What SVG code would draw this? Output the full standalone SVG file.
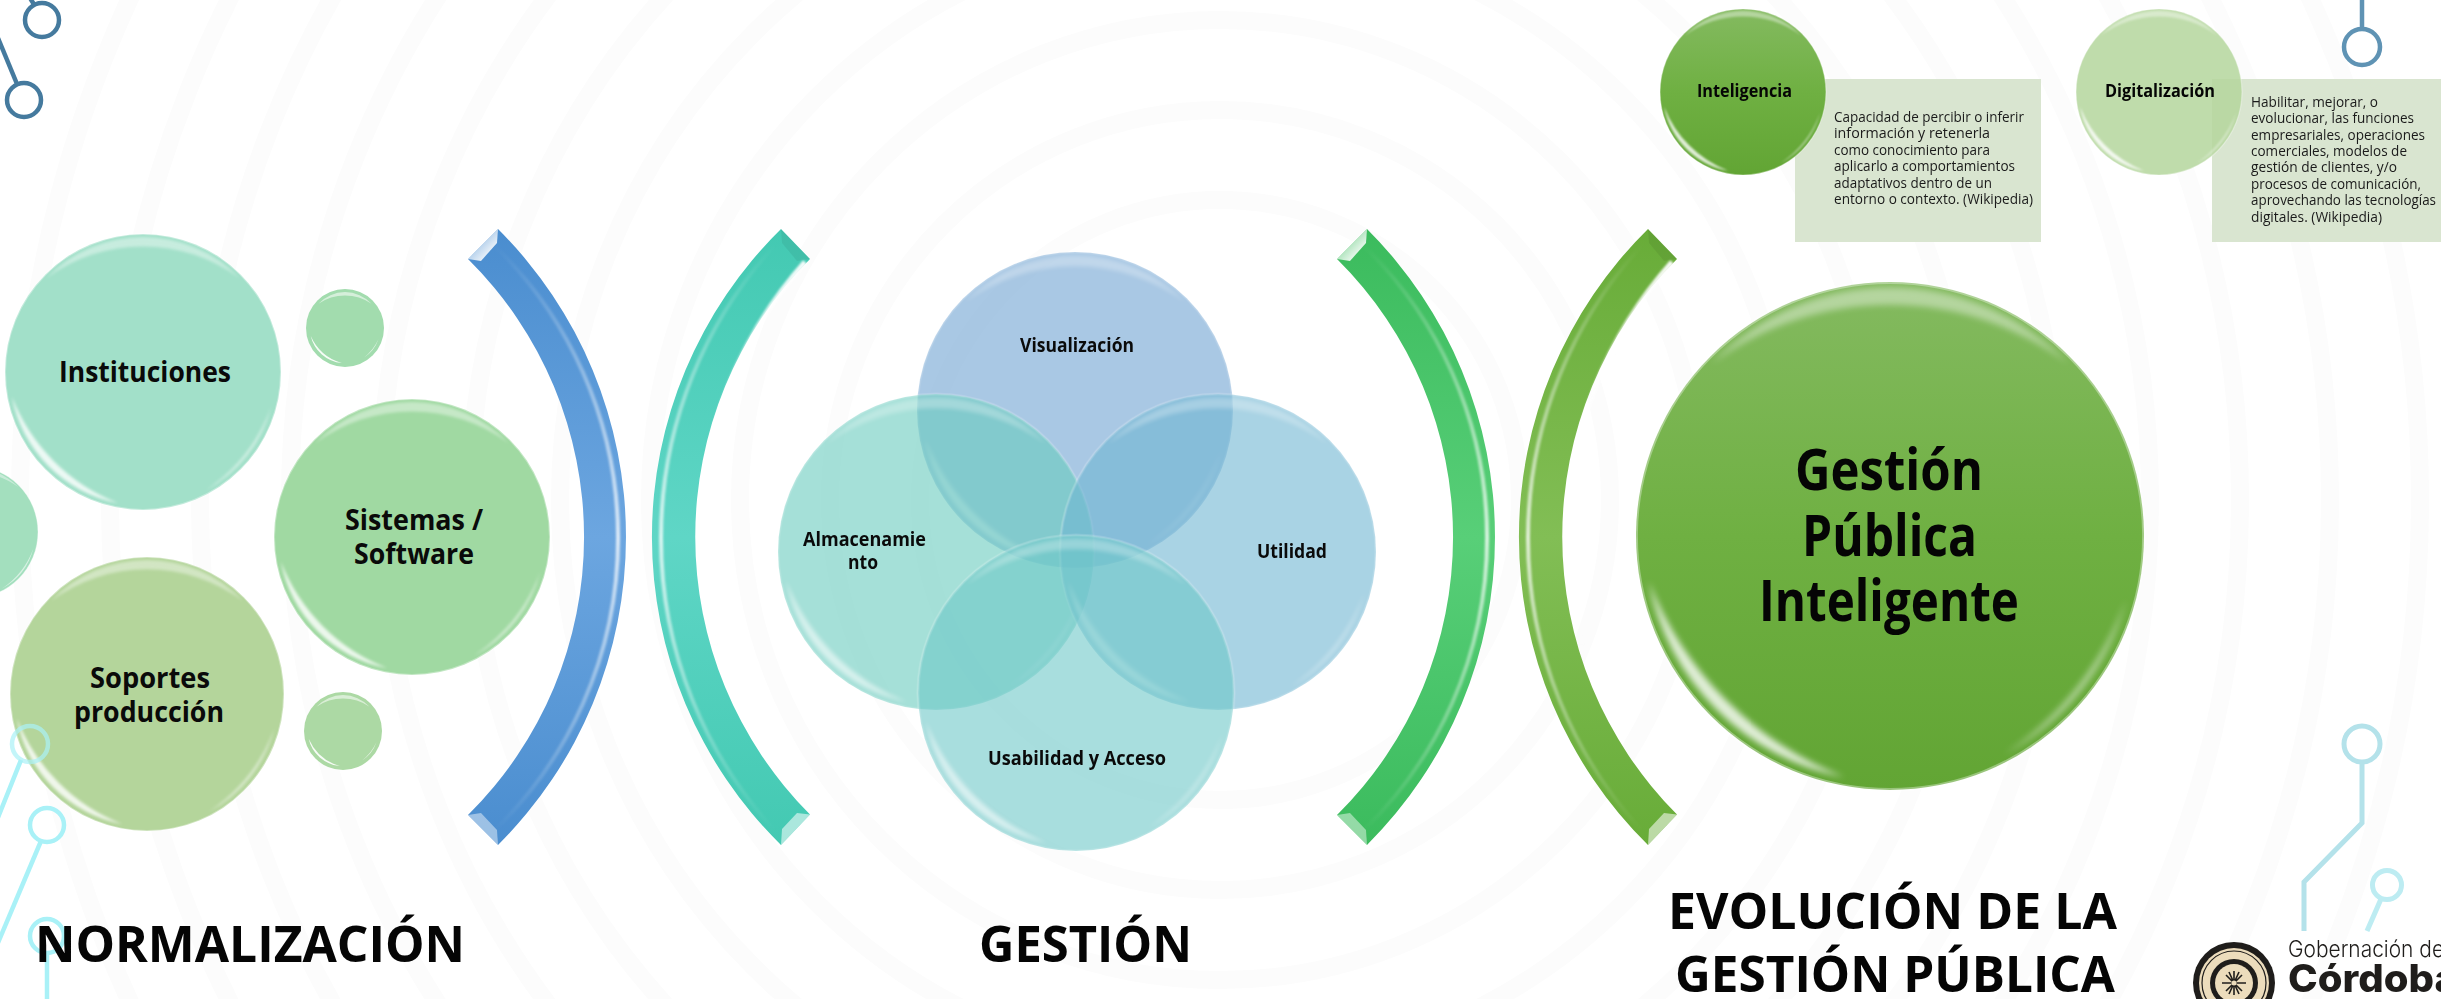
<svg xmlns="http://www.w3.org/2000/svg" xmlns:xlink="http://www.w3.org/1999/xlink" width="2441" height="999" viewBox="0 0 2441 999">
<style>
text{font-family:"Open Sans","Noto Sans","Liberation Sans",sans-serif;fill:#000}
.t{font-size:50px;font-weight:700;fill:#050505}
.n{font-size:29px;font-weight:700;fill:#0a0a0a}
.v{font-size:20px;font-weight:700;fill:#0a0a0a}
.g{font-size:58px;font-weight:700;fill:#050505}
.h{font-size:18px;font-weight:700;fill:#050505}
.s{font-size:14px;fill:#1a1a1a}
.ring{fill:none;stroke:#fcfcfc;stroke-width:18}
.c1{fill:none;stroke:#457a9e;stroke-width:4.5}
.c1b{fill:none;stroke:#5f93b4;stroke-width:4.5}
.c2{fill:none;stroke:#a9f1f7;stroke-width:4.5}
.c3{fill:none;stroke:#b4e2ea;stroke-width:5}
.c4{fill:none;stroke:#bdecf2;stroke-width:5}
</style>
<defs>
<filter id="soft" x="-20%" y="-20%" width="140%" height="140%"><feGaussianBlur stdDeviation="1"/></filter>
<filter id="soft2" x="-20%" y="-20%" width="140%" height="140%"><feGaussianBlur stdDeviation="1.2"/></filter>
<linearGradient id="bl" x1="0" y1="0" x2="0" y2="1"><stop offset="0" stop-color="#4a8dcf"/><stop offset=".5" stop-color="#6ca6e0"/><stop offset="1" stop-color="#4a8dcf"/></linearGradient>
<linearGradient id="te" x1="0" y1="0" x2="0" y2="1"><stop offset="0" stop-color="#43c9b2"/><stop offset=".5" stop-color="#5fd6c6"/><stop offset="1" stop-color="#43c9b2"/></linearGradient>
<linearGradient id="gr" x1="0" y1="0" x2="0" y2="1"><stop offset="0" stop-color="#3bbb5d"/><stop offset=".5" stop-color="#58cf78"/><stop offset="1" stop-color="#3bbb5d"/></linearGradient>
<linearGradient id="li" x1="0" y1="0" x2="0" y2="1"><stop offset="0" stop-color="#68ac38"/><stop offset=".5" stop-color="#82be55"/><stop offset="1" stop-color="#68ac38"/></linearGradient>
<linearGradient id="big" x1="0" y1="0" x2="0" y2="1"><stop offset="0" stop-color="#84ba60"/><stop offset=".5" stop-color="#6fb042"/><stop offset="1" stop-color="#62a534"/></linearGradient>
<linearGradient id="hlm" x1="0" y1="0" x2="0" y2="1"><stop offset="0" stop-color="#fff" stop-opacity="0"/><stop offset=".5" stop-color="#fff" stop-opacity=".75"/><stop offset="1" stop-color="#fff" stop-opacity="0"/></linearGradient>
<linearGradient id="hlt" x1="0" y1="0" x2="0" y2="1"><stop offset="0" stop-color="#fff" stop-opacity=".95"/><stop offset=".4" stop-color="#fff" stop-opacity=".4"/><stop offset=".7" stop-color="#fff" stop-opacity="0"/></linearGradient>
<linearGradient id="fac" x1="0" y1="0" x2="1" y2="1"><stop offset="0" stop-color="#fff" stop-opacity=".15"/><stop offset=".7" stop-color="#fff" stop-opacity=".85"/><stop offset="1" stop-color="#fff" stop-opacity=".3"/></linearGradient>
<path id="brR" d="M498 229A434.6 434.6 0 0 1 498 845L468 815A391 391 0 0 0 468 259Z"/>
<path id="brL" d="M781 229A432 432 0 0 0 781 845L810 814.5A393.5 393.5 0 0 1 810 259Z"/>
<g id="hlR"><path d="M494 245A408 408 0 0 1 494 831" fill="none" stroke="url(#hlm)" stroke-width="4" filter="url(#soft)"/>
<path d="M468 259L498 229L497 243L481 261Z" fill="url(#fac)"/><path d="M468 815L498 845L497 830L481 813Z" fill="#fff" opacity=".45"/></g>
<g id="hlL"><path d="M775 245A433.5 433.5 0 0 0 775 831" fill="none" stroke="url(#hlm)" stroke-width="4" filter="url(#soft)"/>
<path d="M805 262A413 413 0 0 0 805 812" fill="none" stroke="url(#hlt)" stroke-width="5" filter="url(#soft)"/>
<path d="M810 259L781 229L782 243L797 261Z" fill="#000" opacity=".06"/><path d="M810 814.5L781 845L782 829L797 813Z" fill="#fff" opacity=".55"/></g>
<g id="gloss">
<path d="M-70 -68A97 97 0 0 1 70 -68A118 118 0 0 0 -70 -68Z" fill="#fff" opacity=".4" filter="url(#soft2)"/>
<path d="M-95 18A97 97 0 0 0 -18 95A135 135 0 0 1 -95 18Z" fill="#fff" opacity=".8" filter="url(#soft2)"/>
<path d="M93 25A97 97 0 0 1 45 86A125 125 0 0 0 93 25Z" fill="#fff" opacity=".55" filter="url(#soft2)"/>
<circle r="100" fill="none" stroke="#fff" stroke-opacity=".35" stroke-width="1.5"/>
</g>
<g id="glossDot">
<path d="M-68 -62A92 92 0 0 1 68 -62A120 120 0 0 0 -68 -62Z" fill="#fff" opacity=".55"/>
<path d="M-88 20A90 90 0 0 0 -8 90A125 125 0 0 1 -88 20Z" fill="#fff" opacity=".9"/>
<path d="M86 28A90 90 0 0 1 48 76A125 125 0 0 0 86 28Z" fill="#fff" opacity=".65"/>
</g>
</defs>
<rect width="2441" height="999" fill="#fff"/>
<g id="background">
<circle class="ring" cx="1220" cy="500" r="300"/><circle class="ring" cx="1220" cy="500" r="390"/><circle class="ring" cx="1220" cy="500" r="480"/><circle class="ring" cx="1220" cy="500" r="570"/><circle class="ring" cx="1220" cy="500" r="660"/><circle class="ring" cx="1220" cy="500" r="750"/><circle class="ring" cx="1220" cy="500" r="840"/><circle class="ring" cx="1220" cy="500" r="930"/><circle class="ring" cx="1220" cy="500" r="1020"/><circle class="ring" cx="1220" cy="500" r="1110"/><circle class="ring" cx="1220" cy="500" r="1200"/>
</g>
<g id="node-left-partial"><circle cx="-28" cy="532" r="66" fill="#a3dfbe"/><use href="#gloss" transform="translate(-28 532) scale(.66)"/></g>
<g id="node-instituciones"><circle cx="143" cy="372" r="138" fill="#a2e0c9"/><use href="#gloss" transform="translate(143 372) scale(1.38)"/><text class="n" x="59" y="382" textLength="172" lengthAdjust="spacingAndGlyphs">Instituciones</text></g>
<g id="node-dot-top"><circle cx="345" cy="328" r="39" fill="#a2dcae"/><use href="#glossDot" transform="translate(345 328) scale(.39)"/></g>
<g id="node-sistemas"><circle cx="412" cy="537" r="138" fill="#a0d9a2"/><use href="#gloss" transform="translate(412 537) scale(1.38)"/><text class="n" x="345" y="530" textLength="138" lengthAdjust="spacingAndGlyphs">Sistemas /</text><text class="n" x="354" y="564" textLength="120" lengthAdjust="spacingAndGlyphs">Software</text></g>
<g id="node-soportes"><circle cx="147" cy="694" r="137" fill="#b4d59b"/><use href="#gloss" transform="translate(147 694) scale(1.37)"/><text class="n" x="90" y="688" textLength="120" lengthAdjust="spacingAndGlyphs">Soportes</text><text class="n" x="74" y="722" textLength="150" lengthAdjust="spacingAndGlyphs">producción</text></g>
<g id="node-dot-bottom"><circle cx="343" cy="731" r="39" fill="#acd9a4"/><use href="#glossDot" transform="translate(343 731) scale(.39)"/></g>
<g id="bracket-blue"><use href="#brR" fill="url(#bl)"/><use href="#hlR"/></g>
<g id="bracket-teal"><use href="#brL" fill="url(#te)"/><use href="#hlL"/></g>
<g id="bracket-green" transform="translate(869 0)"><use href="#brR" fill="url(#gr)"/><use href="#hlR"/></g>
<g id="bracket-lime" transform="translate(867 0)"><use href="#brL" fill="url(#li)"/><use href="#hlL"/></g>
<g id="node-visualizacion"><circle cx="1075" cy="410" r="158" fill="#70a3d2" fill-opacity=".6"/><use href="#gloss" transform="translate(1075 410) scale(1.58)" opacity=".7"/><text class="v" x="1020" y="352" textLength="114" lengthAdjust="spacingAndGlyphs">Visualización</text></g>
<g id="node-almacenamiento"><circle cx="936" cy="552" r="158" fill="#69cbbe" fill-opacity=".6"/><use href="#gloss" transform="translate(936 552) scale(1.58)" opacity=".7"/><text class="v" x="803" y="546" textLength="123" lengthAdjust="spacingAndGlyphs">Almacenamie</text><text class="v" x="848" y="569" textLength="30" lengthAdjust="spacingAndGlyphs">nto</text></g>
<g id="node-utilidad"><circle cx="1218" cy="552" r="158" fill="#70b6d2" fill-opacity=".6"/><use href="#gloss" transform="translate(1218 552) scale(1.58)" opacity=".7"/><text class="v" x="1257" y="558" textLength="70" lengthAdjust="spacingAndGlyphs">Utilidad</text></g>
<g id="node-usabilidad"><circle cx="1076" cy="693" r="158" fill="#6ec8c8" fill-opacity=".6"/><use href="#gloss" transform="translate(1076 693) scale(1.58)" opacity=".7"/><text class="v" x="988" y="765" textLength="178" lengthAdjust="spacingAndGlyphs">Usabilidad y Acceso</text></g>
<g id="node-gestion-publica"><circle cx="1890" cy="536" r="254" fill="url(#big)"/><use href="#gloss" transform="translate(1890 536) scale(2.54)"/><text class="g" x="1795" y="490" textLength="188" lengthAdjust="spacingAndGlyphs">Gestión</text><text class="g" x="1802" y="556" textLength="175" lengthAdjust="spacingAndGlyphs">Pública</text><text class="g" x="1759" y="621" textLength="260" lengthAdjust="spacingAndGlyphs">Inteligente</text></g>
<g id="node-box-inteligencia"><rect x="1795" y="79" width="246" height="163" fill="#d9e5d0"/>
<text class="s" x="1834" y="122" textLength="190" lengthAdjust="spacingAndGlyphs">Capacidad de percibir o inferir</text>
<text class="s" x="1834" y="138" textLength="156" lengthAdjust="spacingAndGlyphs">información y retenerla</text>
<text class="s" x="1834" y="155" textLength="156" lengthAdjust="spacingAndGlyphs">como conocimiento para</text>
<text class="s" x="1834" y="171" textLength="181" lengthAdjust="spacingAndGlyphs">aplicarlo a comportamientos</text>
<text class="s" x="1834" y="188" textLength="158" lengthAdjust="spacingAndGlyphs">adaptativos dentro de un</text>
<text class="s" x="1834" y="204" textLength="199" lengthAdjust="spacingAndGlyphs">entorno o contexto. (Wikipedia)</text></g>
<g id="node-inteligencia"><circle cx="1743" cy="92" r="83" fill="url(#big)"/><use href="#gloss" transform="translate(1743 92) scale(.83)"/><text class="h" x="1697" y="97" textLength="95" lengthAdjust="spacingAndGlyphs">Inteligencia</text></g>
<g id="node-box-digitalizacion"><rect x="2212" y="79" width="229" height="163" fill="#d9e5d0"/>
<text class="s" x="2251" y="107" textLength="127" lengthAdjust="spacingAndGlyphs">Habilitar, mejorar, o</text>
<text class="s" x="2251" y="123" textLength="163" lengthAdjust="spacingAndGlyphs">evolucionar, las funciones</text>
<text class="s" x="2251" y="140" textLength="174" lengthAdjust="spacingAndGlyphs">empresariales, operaciones</text>
<text class="s" x="2251" y="156" textLength="156" lengthAdjust="spacingAndGlyphs">comerciales, modelos de</text>
<text class="s" x="2251" y="172" textLength="146" lengthAdjust="spacingAndGlyphs">gestión de clientes, y/o</text>
<text class="s" x="2251" y="189" textLength="170" lengthAdjust="spacingAndGlyphs">procesos de comunicación,</text>
<text class="s" x="2251" y="205" textLength="185" lengthAdjust="spacingAndGlyphs">aprovechando las tecnologías</text>
<text class="s" x="2251" y="222" textLength="131" lengthAdjust="spacingAndGlyphs">digitales. (Wikipedia)</text></g>
<g id="node-digitalizacion"><circle cx="2159" cy="92" r="83" fill="#b4d69c" fill-opacity=".85"/><use href="#gloss" transform="translate(2159 92) scale(.83)"/><text class="h" x="2105" y="97" textLength="110" lengthAdjust="spacingAndGlyphs">Digitalización</text></g>
<g id="connectors">
<circle class="c1" cx="42" cy="20" r="17"/><path class="c1" d="M30 -2L35 6"/>
<circle class="c1" cx="24" cy="100" r="17"/><path class="c1" d="M-2 38L17 84"/>
<circle class="c1b" cx="2362" cy="47" r="18"/><path class="c1b" d="M2362 0V29"/>
<circle class="c2" cx="30" cy="744" r="18" style="stroke-opacity:.7"/><path class="c2" d="M21 760L-3 820"/>
<circle class="c2" cx="47" cy="825" r="17"/><path class="c2" d="M41 841L-3 945"/>
<circle class="c2" cx="47" cy="936" r="17"/><path class="c2" d="M47 951V999"/>
<circle class="c3" cx="2362" cy="744" r="18"/><path class="c3" d="M2362 762V823L2304 882V931"/>
<circle class="c4" cx="2387" cy="885" r="14.5"/><path class="c4" d="M2381 899L2367 931"/>
</g>
<g id="titles">
<text class="t" x="35" y="962" textLength="430" lengthAdjust="spacingAndGlyphs">NORMALIZACIÓN</text>
<text class="t" x="979" y="962" textLength="213" lengthAdjust="spacingAndGlyphs">GESTIÓN</text>
<text class="t" x="1668" y="929" textLength="449" lengthAdjust="spacingAndGlyphs">EVOLUCIÓN DE LA</text>
<text class="t" x="1675" y="992" textLength="440" lengthAdjust="spacingAndGlyphs">GESTIÓN PÚBLICA</text>
</g>
<g id="logo">
<circle cx="2234" cy="983" r="41" fill="#1f1d1b"/><circle cx="2234" cy="983" r="35" fill="#ecdcbc"/><circle cx="2234" cy="983" r="32" fill="none" stroke="#1f1d1b" stroke-width="1.2"/>
<circle cx="2234" cy="983" r="24" fill="#1f1d1b"/><circle cx="2234" cy="983" r="19" fill="#ecdcbc"/><circle cx="2234" cy="983" r="27.5" fill="none" stroke="#ecdcbc" stroke-width="1.2" stroke-dasharray="3 3"/>
<path d="M2234 971V995M2222 983H2246M2226 975L2242 991M2242 975L2226 991M2229 972L2239 994M2239 972L2229 994" stroke="#1f1d1b" stroke-width="1.6" fill="none"/><circle cx="2234" cy="983" r="2.5" fill="#ecdcbc"/>
<text x="2288" y="957" font-size="23" textLength="156" lengthAdjust="spacingAndGlyphs" style="font-family:Inter,'Noto Sans',sans-serif;font-weight:300;fill:#1f1d1b">Gobernación de</text>
<text x="2288" y="992" font-size="38" textLength="170" lengthAdjust="spacingAndGlyphs" style="font-family:Inter,'Noto Sans',sans-serif;font-weight:800;fill:#1f1d1b">Córdoba</text>
</g>
</svg>
